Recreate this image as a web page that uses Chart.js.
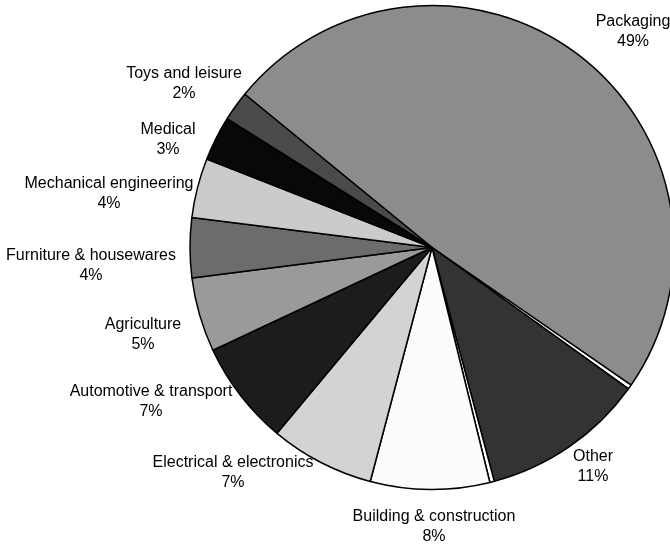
<!DOCTYPE html>
<html>
<head>
<meta charset="utf-8">
<script src="https://cdn.jsdelivr.net/npm/chart.js@4/dist/chart.umd.min.js"></script>
<style>
  html, body { margin: 0; padding: 0; overflow: hidden; background: #fff; }
  #wrap { width: 670px; height: 544px; overflow: hidden; position: relative; }
  canvas { position: absolute; left: 0; top: 0; }
</style>
</head>
<body>
<div id="wrap">
  <canvas id="pieChart" width="864" height="544"></canvas>
</div>
<script>
// end uses by sector, share in percent (clockwise from Packaging)
var sectors = ["Packaging", "", "Other", "", "Building & construction", "Electrical & electronics",
    "Automotive & transport", "Agriculture", "Furniture & housewares", "Mechanical engineering",
    "Medical", "Toys and leisure"];
var shares = [49, 0.3, 11, 0.3, 8, 7, 7, 5, 4, 4, 3, 2];
var fills = ["#8c8c8c", "#ffffff", "#333333", "#ffffff", "#fbfbfb", "#d3d3d3",
    "#1c1c1c", "#9a9a9a", "#6c6c6c", "#cbcbcb", "#080808", "#4a4a4a"];

// where each label block sits, relative to the pie centre
var labelOffsets = [[201, -216], null, [161, 219], null, [2, 279], [-199, 225],
    [-281, 154], [-289, 87], [-341, 18], [-323, -54], [-264, -108], [-248, -164]];

var ctx = document.getElementById("pieChart").getContext("2d");

var outsideLabels = {
    id: "outsideLabels",
    afterDraw: function(chart) {
        var arcs = chart.getDatasetMeta(0).data;
        if (!arcs.length) return;
        var cx = arcs[0].x, cy = arcs[0].y;
        var c = chart.ctx;
        c.save();
        c.font = "16px 'Liberation Sans', Arial, sans-serif";
        c.fillStyle = "#000";
        c.textAlign = "center";
        c.textBaseline = "middle";
        for (var i = 0; i < sectors.length; i++) {
            var off = labelOffsets[i];
            if (!off || !sectors[i]) continue;
            var x = cx + off[0], y = cy + off[1];
            c.fillText(sectors[i], x, y - 10);
            c.fillText(shares[i] + "%", x, y + 10);
        }
        c.restore();
    }
};

var pieChart = new Chart(ctx, {
    type: "pie",
    data: {
        labels: sectors,
        datasets: [{
            data: shares,
            backgroundColor: fills,
            borderColor: "#000",
            borderWidth: 1.5
        }]
    },
    options: {
        responsive: false,
        animation: false,
        rotation: -50.7,
        radius: 242,
        layout: { padding: { top: 5, bottom: 54, left: 5, right: 5 } },
        plugins: {
            legend: { display: false },
            tooltip: { enabled: false }
        }
    },
    plugins: [outsideLabels]
});
</script>
</body>
</html>
